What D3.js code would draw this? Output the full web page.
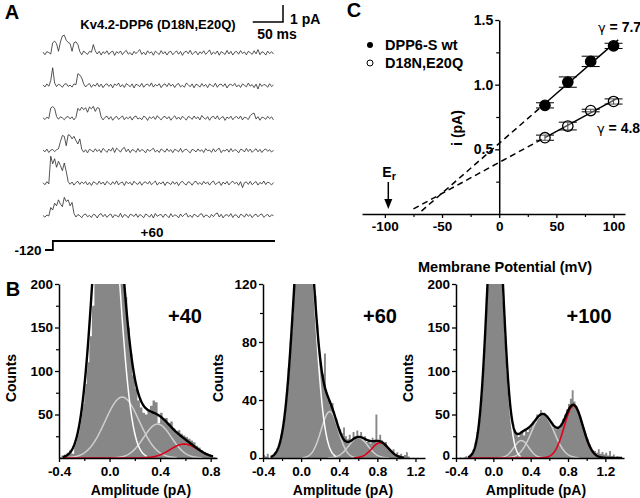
<!DOCTYPE html>
<html><head><meta charset="utf-8">
<script src="https://cdn.jsdelivr.net/npm/d3@7"></script>
<style>
body{margin:0;background:#fff}
svg{display:block}
text{font-family:"Liberation Sans",Arial,Helvetica,sans-serif;font-weight:bold;fill:#000}
</style>
</head><body>
<svg id="fig" width="640" height="498"></svg>
<script>
// ---------------- DATA ----------------
// Panel A: single-channel sweeps (pA), sampled every 3.2 ms
const sampleDt = 3.2;
const trace1 = [0.05,-0.1,0.08,0.02,-0.06,0.6,0.7,0.55,0.1,0.65,1.0,1.05,0.75,0.62,0.55,0.1,0.6,0.66,0.5,0.08,
-0.1,0.12,0.0,-0.08,0.1,0.04,0.5,0.12,-0.06,0.1,-0.12,0.07,-0.03,0.13,-0.09,0.05,0.11,-0.14,0.08,-0.02,
0.12,-0.1,0.06,0.15,-0.07,0.03,-0.12,0.1,-0.04,0.09,0.2,-0.08,0.05,-0.11,0.13,-0.02,0.07,-0.13,0.11,0.01,
-0.09,0.14,-0.05,0.08,-0.12,0.06,0.1,-0.1,0.03,0.12,-0.07,0.09,-0.14,0.05,0.11,-0.04,0.16,-0.09,0.02,0.1,
-0.11,0.07,-0.03,0.13,-0.08,0.04,0.18,-0.1,0.06,-0.05,0.12,-0.13,0.08,0.01,-0.09,0.15,-0.06,0.1,-0.12,0.05,
0.09,-0.07,0.14,-0.03,0.06,-0.11,0.1,0.02,-0.08,0.13,-0.05,0.2,-0.1,0.07,0.03,-0.12,0.11,-0.04,0.08,-0.06];
const trace2 = [0.04,-0.08,0.1,-0.04,0.3,1.05,0.15,-0.06,0.08,0.02,-0.1,0.07,0.12,-0.05,0.03,-0.09,0.1,0.05,0.7,0.62,
0.45,0.1,-0.08,0.05,0.12,-0.1,0.06,-0.03,0.14,-0.07,0.09,-0.12,0.04,0.11,-0.05,0.08,-0.13,0.1,0.0,0.15,
-0.08,0.06,-0.11,0.12,0.03,-0.07,0.1,-0.14,0.08,0.02,-0.06,0.13,-0.1,0.05,0.09,-0.04,0.16,-0.09,0.07,-0.02,
0.11,-0.12,0.04,0.1,-0.06,0.14,-0.03,0.08,-0.11,0.06,0.12,-0.08,0.02,-0.1,0.15,0.05,-0.07,0.1,-0.13,0.08,
0.03,-0.09,0.12,-0.04,0.07,-0.12,0.1,0.01,-0.06,0.14,-0.1,0.06,0.09,-0.05,0.11,-0.14,0.04,0.08,-0.02,0.13,
-0.08,0.05,-0.11,0.1,0.02,-0.07,0.15,-0.03,0.06,-0.12,0.09,-0.2,0.12,-0.05,0.07,0.03,-0.1,0.11,-0.06,0.04];
const trace3 = [0.03,-0.08,0.06,-0.02,0.6,0.68,0.58,0.1,-0.06,0.08,0.02,-0.09,0.06,0.1,-0.04,0.08,-0.1,0.05,0.58,0.45,
0.65,0.5,0.62,0.35,0.66,0.55,0.7,0.4,0.62,0.58,0.08,-0.1,0.05,0.12,-0.06,0.09,-0.12,0.04,0.11,-0.07,
0.02,0.14,-0.09,0.06,-0.03,0.1,-0.11,0.07,0.13,-0.05,0.02,-0.09,0.12,0.05,-0.13,0.08,-0.02,0.1,-0.07,0.15,
0.01,-0.1,0.06,0.11,-0.04,0.09,-0.12,0.03,0.14,-0.06,0.07,-0.08,0.12,0.0,-0.11,0.1,0.05,-0.07,0.13,-0.03,
0.08,-0.1,0.16,0.02,-0.06,0.09,-0.12,0.06,0.11,-0.05,0.14,-0.08,0.03,0.1,-0.13,0.07,-0.02,0.12,-0.09,0.05,
0.1,-0.04,0.13,-0.1,0.06,0.02,-0.08,0.15,0.25,0.3,-0.05,0.09,-0.12,0.06,0.03,-0.07,0.11,-0.03,0.08,-0.1];
const trace4 = [0.05,-0.06,0.1,-0.1,0.04,0.08,-0.05,0.06,0.12,0.55,0.9,0.85,0.3,0.95,0.9,0.7,0.85,0.6,0.4,0.7,
0.1,-0.08,0.06,-0.12,0.09,0.02,-0.07,0.12,-0.04,0.08,-0.1,0.14,0.03,-0.09,0.1,-0.02,0.18,-0.1,0.16,0.05,
-0.08,0.12,0.2,-0.06,0.1,-0.11,0.07,0.03,-0.09,0.13,-0.05,0.08,0.01,-0.12,0.1,-0.03,0.06,0.15,-0.07,0.04,
-0.1,0.11,0.02,-0.08,0.12,-0.04,0.07,-0.11,0.09,0.03,-0.06,0.14,-0.09,0.05,0.1,-0.02,-0.12,0.08,0.04,-0.07,
0.11,-0.03,0.06,-0.1,0.13,0.0,0.05,-0.09,0.12,-0.06,0.08,0.15,-0.11,0.04,-0.02,0.1,-0.08,0.13,-0.05,0.07,
0.02,-0.12,0.09,0.06,-0.07,0.14,-0.04,0.1,-0.09,0.03,0.12,-0.06,0.08,-0.1,0.05,0.11,-0.03,0.07,-0.08,0.04];
const trace5 = [0.04,-0.08,0.1,-0.03,1.6,1.15,1.45,0.95,1.3,1.05,0.75,1.2,0.7,0.1,-0.05,0.08,-0.1,0.05,0.12,-0.06,
0.09,-0.02,0.11,-0.09,0.06,-0.12,0.1,0.03,-0.07,0.13,-0.04,0.08,-0.1,0.12,0.01,-0.08,0.1,-0.05,0.15,-0.09,
0.04,0.08,-0.12,0.11,-0.02,0.07,-0.1,0.13,0.0,-0.06,0.1,-0.11,0.05,0.09,-0.04,0.12,-0.08,0.03,0.14,-0.1,
0.06,-0.03,0.1,-0.12,0.08,0.02,-0.07,0.11,-0.05,0.09,-0.13,0.06,0.12,-0.02,-0.09,0.1,0.04,-0.11,0.07,0.13,
-0.06,0.05,-0.08,0.12,-0.03,0.09,-0.1,0.06,0.14,-0.07,0.02,0.1,-0.12,0.08,-0.04,0.11,-0.09,0.05,0.13,-0.02,
0.07,-0.11,0.1,-0.25,0.04,0.09,-0.06,0.12,-0.08,0.03,0.11,-0.1,0.06,-0.03,0.14,-0.07,0.08,0.02,-0.09,0.05];
const trace6 = [0.03,-0.07,0.06,0.0,0.5,0.35,0.75,0.6,0.95,0.7,0.55,1.1,0.85,0.95,0.6,0.8,0.15,-0.06,0.09,0.02,
-0.1,0.07,0.12,-0.05,0.04,-0.09,0.1,0.06,-0.12,0.08,0.14,-0.04,0.1,-0.08,0.05,0.12,-0.1,0.07,0.02,-0.06,
0.16,-0.09,0.08,0.04,-0.11,0.1,0.06,-0.03,0.13,-0.08,0.09,0.01,-0.1,0.12,0.05,-0.07,0.1,-0.12,0.15,-0.02,
0.06,0.09,-0.08,0.11,0.03,-0.1,0.14,-0.05,0.07,0.02,-0.11,0.12,-0.04,0.08,0.16,-0.07,0.05,-0.09,0.11,0.03,
-0.06,0.1,0.13,-0.08,0.06,0.02,-0.1,0.09,-0.04,0.12,0.18,-0.06,0.1,-0.11,0.05,0.08,-0.03,0.14,-0.09,0.07,
0.04,-0.12,0.1,0.06,-0.07,0.13,-0.02,0.09,-0.1,0.05,0.11,-0.05,0.08,0.12,-0.08,0.03,0.1,-0.06,0.07,0.02];
const protoT = [0, 13, 13, 380];
const protoV = [-120, -120, 60, 60];

// Panel C: unitary current vs voltage
const voltages = [40, 60, 80, 100];
const iWt  = [0.84, 1.02, 1.18, 1.30];
const eWt  = [0.02, 0.04, 0.04, 0.02];
const iMut = [0.59, 0.68, 0.80, 0.87];
const eMut = [0.02, 0.03, 0.01, 0.02];
const extrapFrom = [-68, -75];  // start of dashed extrapolations (mV)
const gammaValues = ["7.7", "4.8"];
const legendLabels = ["DPP6-S wt", "D18N,E20Q"];
const xTicksC = [-100, -50, 0, 50, 100];
const yTicksC = [0.5, 1.0, 1.5];
const ErValue = -97;

// Panel B: amplitude histograms (bins of 0.02 pA starting at -0.40 pA)
const binStart = -0.40, binWidth = 0.02;
const counts40 = [1,3,4,6,9,5,18,28,45,62,85,110,140,175,215,240,270,300,320,330,
325,310,290,265,240,215,185,150,120,95,80,66,58,52,50,56,60,66,64,40,
52,44,46,40,42,34,30,32,28,26,24,22,20,18,14,12,9,7,5,3,2,1];
const counts60 = [2,1,3,0,1,2,4,6,10,16,20,33,45,62,80,98,122,140,150,165,
178,185,180,172,158,145,128,112,92,74,66,58,72,44,40,36,38,30,27,22,
20,17,21,15,13,16,12,18,15,19,14,18,12,15,11,13,10,14,12,30,
11,16,12,9,11,7,6,5,6,3,4,2,3,1,2,4,1,0,0,0];
const counts100 = [0,0,1,0,1,2,1,4,6,10,18,30,45,70,100,140,185,230,270,300,
320,318,300,265,225,180,140,100,70,50,35,30,27,24,28,30,26,32,30,34,
36,42,40,50,46,55,50,52,47,44,42,38,35,33,36,34,40,45,50,56,
62,68,78,65,60,55,48,40,34,28,22,16,12,9,8,6,10,5,7,4,
6,3,8,2,4,1,2,0,1,0];
// Gaussian fit components [amplitude (counts), mean (pA), sd (pA)]
const fit40  = {closed:[350,-0.025,0.10], g1:[70,0.10,0.135], g2:[39,0.38,0.11], red:[16,0.59,0.11]};
const fit60  = {closed:[190,0.03,0.105], g1:[32,0.30,0.09], g2:[14,0.60,0.10], red:[10.5,0.83,0.09]};
const fit100 = {closed:[320,0.02,0.085], g1:[20,0.30,0.08], g2:[50,0.53,0.12], red:[60,0.86,0.10]};
const histLabels = ["+40", "+60", "+100"];

// ---------------- DRAWING ----------------
const svg = d3.select("#fig");
function text(x, y, s, size, anchor = "middle", rot = 0) {
  const t = svg.append("text").attr("x", x).attr("y", y)
    .attr("text-anchor", anchor).attr("dominant-baseline", "central")
    .style("font-size", size + "px").text(s);
  if (rot) t.attr("transform", `rotate(${rot},${x},${y})`);
  return t;
}
const minusFmt = f => d => f(d).replace("\u2212", "-");
function styleAxis(g, fs) {
  g.selectAll("path.domain").attr("stroke", "#000").attr("stroke-width", 1.5);
  g.selectAll(".tick line").attr("stroke", "#000").attr("stroke-width", 1.3);
  g.selectAll(".tick text").style("font-size", fs + "px").style("font-family", '"Liberation Sans",Arial,sans-serif').style("font-weight", "bold").attr("fill", "#000");
}
function minorTicks(axisFn, transform) {
  svg.append("g").attr("transform", transform).call(axisFn)
    .call(a => { a.select(".domain").remove(); a.selectAll("line").attr("stroke", "#000").attr("stroke-width", 1.2); });
}

// ----- Panel A -----
text(12, 12, "A", 20);
text(158, 24, "Kv4.2-DPP6 (D18N,E20Q)", 13);
const traces = [trace1, trace2, trace3, trace4, trace5, trace6];
const xT = d3.scaleLinear().domain([0, 380]).range([43, 273]);
const yT = d3.scaleLinear().domain([0, 1]).range([0, -17]);
const traceLine = d3.line().x((d, k) => xT(k * sampleDt)).y(d => yT(d));
traces.forEach((tr, i) => {
  svg.append("g").attr("transform", `translate(0,${53 + i * 32.6})`)
    .append("path").attr("d", traceLine(tr)).attr("fill", "none")
    .attr("stroke", "#2a2a2a").attr("stroke-width", 0.8);
});
const sbX = 283, sbY = 22;
svg.append("path").attr("d", `M${sbX - (xT(50) - xT(0))},${sbY}H${sbX}V${sbY + (yT(1) - yT(0))}`)
  .attr("fill", "none").attr("stroke", "#000").attr("stroke-width", 1.5);
text(290, 19, "1 pA", 14, "start");
text(277, 34, "50 ms", 14);
const yV = d3.scaleLinear().domain([-120, 60]).range([250, 241]);
svg.append("path").attr("d", d3.line().x(d => xT(d[0]) + 2).y(d => yV(d[1]))(protoT.map((t, i) => [t, protoV[i]])))
  .attr("fill", "none").attr("stroke", "#000").attr("stroke-width", 1.8);
text(28, 250, "-120", 13.5);
text(152, 232, "+60", 13.5);

// ----- Panel C -----
text(354, 10, "C", 20);
const xC = d3.scaleLinear().domain([-120, 110]).range([362, 625]);
const yC = d3.scaleLinear().domain([0, 1.5]).range([214, 20]);
const gx = svg.append("g").attr("transform", `translate(0,${yC(0)})`)
  .call(d3.axisBottom(xC).tickValues(xTicksC).tickSize(4).tickSizeOuter(0).tickPadding(3).tickFormat(minusFmt(d3.format("d"))));
styleAxis(gx, 13.5);
minorTicks(d3.axisBottom(xC).tickValues([-75, -25, 25, 75]).tickSize(3).tickFormat(""), `translate(0,${yC(0)})`);
const gy = svg.append("g").attr("transform", `translate(${xC(0)},0)`)
  .call(d3.axisLeft(yC).tickValues(yTicksC).tickSize(4).tickSizeOuter(0).tickPadding(2).tickFormat(d3.format(".1f")));
styleAxis(gy, 14);
minorTicks(d3.axisLeft(yC).tickValues([0.25, 0.75, 1.25]).tickSize(3).tickFormat(""), `translate(${xC(0)},0)`);
text(457, 128, "i (pA)", 14, "middle", -90);
text(505, 267, "Membrane Potential (mV)", 14.5);

function linfit(xs, ys) {
  const mx = d3.mean(xs), my = d3.mean(ys);
  const b = d3.sum(xs, (x, i) => (x - mx) * (ys[i] - my)) / d3.sum(xs, x => (x - mx) ** 2);
  return { b, a: my - b * mx };
}
[[iWt, eWt, true, extrapFrom[0]], [iMut, eMut, false, extrapFrom[1]]].forEach(([vals, errs, filled, v0]) => {
  const f = linfit(voltages, vals);
  const yAt = v => yC(f.a + f.b * v);
  svg.append("line").attr("x1", xC(v0)).attr("y1", yAt(v0)).attr("x2", xC(voltages[0])).attr("y2", yAt(voltages[0]))
    .attr("stroke", "#000").attr("stroke-width", 1.5).attr("stroke-dasharray", "6,4");
  svg.append("line").attr("x1", xC(voltages[0])).attr("y1", yAt(voltages[0])).attr("x2", xC(104)).attr("y2", yAt(104))
    .attr("stroke", "#000").attr("stroke-width", 1.5);
  voltages.forEach((v, i) => {
    const cx = xC(v);
    [vals[i] - errs[i], vals[i] + errs[i]].forEach(e =>
      svg.append("line").attr("x1", cx - 9).attr("x2", cx + 9).attr("y1", yC(e)).attr("y2", yC(e)).attr("stroke", "#000").attr("stroke-width", 1));
    svg.append("line").attr("x1", cx).attr("x2", cx).attr("y1", yC(vals[i] - errs[i])).attr("y2", yC(vals[i] + errs[i])).attr("stroke", "#000");
    svg.append("circle").attr("cx", cx).attr("cy", yC(vals[i])).attr("r", 5.2)
      .attr("fill", filled ? "#000" : "#fff").attr("fill-opacity", filled ? 1 : 0.3).attr("stroke", "#000").attr("stroke-width", 1.3);
  });
});
[[598, 27], [597, 128]].forEach(([x, y], i) => {
  const t = svg.append("text").attr("x", x).attr("y", y).attr("dominant-baseline", "central").style("font-size", "14px");
  t.append("tspan").style("font-family", '"DejaVu Sans",sans-serif').style("font-weight", "normal").style("font-size", "13px").text("\u03b3");
  t.append("tspan").text(" = " + gammaValues[i]);
});
svg.append("circle").attr("cx", 370).attr("cy", 45).attr("r", 3).attr("fill", "#000");
svg.append("circle").attr("cx", 370).attr("cy", 63).attr("r", 3).attr("fill", "#fff").attr("stroke", "#000").attr("stroke-width", 1);
text(385, 45, legendLabels[0], 14.5, "start");
text(385, 63, legendLabels[1], 14.5, "start");
const erx = xC(ErValue);
svg.append("text").attr("x", erx - 6).attr("y", 172).attr("dominant-baseline", "central").style("font-size", "14px")
  .text("E").append("tspan").attr("dy", 4).style("font-size", "11px").text("r");
svg.append("line").attr("x1", erx).attr("x2", erx).attr("y1", 182).attr("y2", 200).attr("stroke", "#000").attr("stroke-width", 1.5);
svg.append("path").attr("d", `M${erx - 4},199L${erx + 4},199L${erx},209Z`).attr("fill", "#000");

// ----- Panel B -----
text(13, 289, "B", 20);
const gauss = (x, p) => p[0] * Math.exp(-((x - p[1]) ** 2) / (2 * p[2] * p[2]));
const panels = [
  { counts: counts40, fit: fit40, xd: [-0.4, 0.85], xr: [59, 217], ymax: 200, yt: [50, 100, 150, 200], ym: [25, 75, 125, 175],
    xt: [-0.4, 0, 0.4, 0.8], xm: [-0.2, 0.2, 0.6], redR: [-0.37, 0.82], blackR: [-0.37, 0.82], countsX: 11, ampX: 141, labX: 185, label: histLabels[0] },
  { counts: counts60, fit: fit60, xd: [-0.4, 1.3], xr: [263, 425], ymax: 120, yt: [0, 40, 80, 120], ym: [20, 60, 100],
    xt: [-0.4, 0, 0.4, 0.8, 1.2], xm: [-0.2, 0.2, 0.6, 1.0], redR: [0.55, 1.05], blackR: [-0.32, 1.08], countsX: 218, ampX: 343, labX: 380, label: histLabels[1] },
  { counts: counts100, fit: fit100, xd: [-0.4, 1.4], xr: [456, 624], ymax: 200, yt: [0, 50, 100, 150, 200], ym: [25, 75, 125, 175],
    xt: [-0.4, 0, 0.4, 0.8, 1.2], xm: [-0.2, 0.2, 0.6, 1.0], redR: [-0.27, 1.12], blackR: [-0.27, 1.38], countsX: 408, ampX: 536, labX: 589, label: histLabels[2] }
];
panels.forEach((P, pi) => {
  const xs = d3.scaleLinear().domain(P.xd).range(P.xr);
  const ys = d3.scaleLinear().domain([0, P.ymax]).range([458, 284]);
  const clipId = "clip" + pi;
  svg.append("clipPath").attr("id", clipId).append("rect")
    .attr("x", P.xr[0]).attr("y", 284).attr("width", P.xr[1] - P.xr[0]).attr("height", 174);
  const g = svg.append("g").attr("clip-path", `url(#${clipId})`);
  const steps = P.counts.map((c, i) => [binStart + i * binWidth, c]);
  steps.push([binStart + P.counts.length * binWidth, P.counts[P.counts.length - 1]]);
  g.append("path").attr("d", d3.area().curve(d3.curveStepAfter).x(d => xs(d[0])).y0(ys(0)).y1(d => ys(d[1]))(steps))
    .attr("fill", "#878787");
  const curve = (fn, lo, hi) => d3.line()(d3.range(lo, hi + 1e-9, 0.004).map(x => [xs(x), ys(fn(x))]));
  const F = P.fit;
  const sum = x => gauss(x, F.closed) + gauss(x, F.g1) + gauss(x, F.g2) + gauss(x, F.red);
  const range = p => [Math.max(P.xd[0], p[1] - 3.2 * p[2]), Math.min(P.xd[1], p[1] + 3.2 * p[2])];
  [F.g1, F.g2].forEach(p => {
    const r = range(p);
    g.append("path").attr("d", curve(x => gauss(x, p), r[0], r[1])).attr("fill", "none").attr("stroke", "#cfcfcf").attr("stroke-width", 1.5);
  });
  const rc = range(F.closed);
  g.append("path").attr("d", curve(x => gauss(x, F.closed), rc[0], rc[1])).attr("fill", "none").attr("stroke", "#fff").attr("stroke-width", 1.5);
  g.append("path").attr("d", curve(x => gauss(x, F.red), P.redR[0], P.redR[1])).attr("fill", "none").attr("stroke", "#e0001b").attr("stroke-width", 1.6);
  g.append("path").attr("d", curve(sum, P.blackR[0], P.blackR[1])).attr("fill", "none").attr("stroke", "#000").attr("stroke-width", 2.4);

  const ax = svg.append("g").attr("transform", "translate(0,458)")
    .call(d3.axisBottom(xs).tickValues(P.xt).tickSize(4).tickSizeOuter(0).tickPadding(4).tickFormat(minusFmt(d3.format(".1f"))));
  styleAxis(ax, 13.5);
  minorTicks(d3.axisBottom(xs).tickValues(P.xm).tickSize(3).tickFormat(""), "translate(0,458)");
  const ay = svg.append("g").attr("transform", `translate(${P.xr[0]},0)`)
    .call(d3.axisLeft(ys).tickValues(P.yt).tickSize(4).tickSizeOuter(0).tickPadding(2).tickFormat(d3.format("d")));
  styleAxis(ay, 13.5);
  ay.selectAll(".tick text").filter(d => d === 0).attr("dy", "0.1em");
  minorTicks(d3.axisLeft(ys).tickValues(P.ym).tickSize(3).tickFormat(""), `translate(${P.xr[0]},0)`);
  text(P.countsX, 378, "Counts", 14, "middle", -90);
  text(P.ampX, 490, "Amplitude (pA)", 14);
  text(P.labX, 316, P.label, 20);
});
</script>
</body></html>
